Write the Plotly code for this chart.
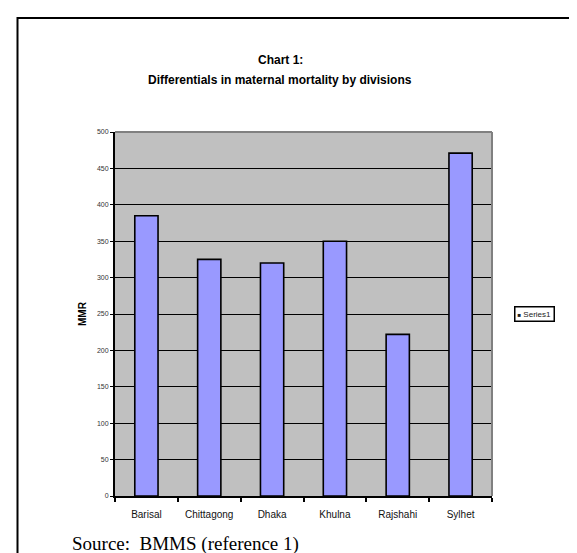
import plotly.graph_objects as go

categories = ["Barisal", "Chittagong", "Dhaka", "Khulna", "Rajshahi", "Sylhet"]
mmr_values = [385, 325, 320, 350, 222, 471]
series_name = "Series1"
title_line1 = "Chart 1:"
title_line2 = "Differentials in maternal mortality by divisions"
y_title = "MMR"
source_text = "Source:&nbsp;&nbsp;BMMS (reference 1)"

W, H = 577, 553
L, R, T, B = 107, 484, 124, 488  # plot area in px
pw, ph = R - L, B - T

def px(x):
    return (x - L) / pw

def py(y):
    return (B - y) / ph

fig = go.Figure()
fig.add_trace(go.Bar(
    x=categories, y=mmr_values, name=series_name,
    marker=dict(color="#9999FF", line=dict(color="black", width=1.6)),
    width=0.37, showlegend=False,
))

fig.update_layout(
    width=W, height=H,
    margin=dict(l=L, r=W - R, t=T, b=H - B, pad=0),
    paper_bgcolor="white", plot_bgcolor="#C0C0C0",
    font=dict(family="Liberation Sans, Arial, sans-serif", color="black"),
    showlegend=False,
    xaxis=dict(
        type="category", showgrid=False, showline=True, linecolor="black", linewidth=2,
        ticks="outside", tickson="boundaries", ticklen=4, tickwidth=1.5, tickcolor="black",
        tickfont=dict(size=10, color="#111"), ticklabelstandoff=8,
    ),
    yaxis=dict(
        range=[0, 500], dtick=50, showgrid=True, gridcolor="black", gridwidth=1,
        showline=True, linecolor="black", linewidth=2, zeroline=False,
        ticks="outside", ticklen=3, tickwidth=1, tickcolor="black",
        tickfont=dict(size=7, color="#333"),
        title=dict(text="<b>" + y_title + "</b>", font=dict(size=10), standoff=8),
    ),
    shapes=[
        # outer frame
        dict(type="rect", xref="paper", yref="paper",
             x0=px(9.5), x1=px(600), y0=py(10), y1=py(600),
             line=dict(color="black", width=2), layer="below"),
        # top and right plot border (gray)
        dict(type="line", xref="paper", yref="paper", x0=0, x1=1, y0=1, y1=1,
             line=dict(color="#808080", width=2), layer="above"),
        dict(type="line", xref="paper", yref="paper", x0=1, x1=1, y0=0, y1=1,
             line=dict(color="#808080", width=2), layer="above"),
    ],
    annotations=[
        dict(text="<b>" + title_line1 + "</b>", xref="paper", yref="paper",
             x=px(272), y=py(52), showarrow=False, font=dict(size=12),
             xanchor="center", yanchor="middle"),
        dict(text="<b>" + title_line2 + "</b>", xref="paper", yref="paper",
             x=px(272), y=py(72), showarrow=False, font=dict(size=12),
             xanchor="center", yanchor="middle"),
        # legend box
        dict(text="<span style='font-size:6px'>■</span> " + series_name,
             xref="paper", yref="paper", x=px(526), y=py(306),
             showarrow=False, font=dict(size=8, color="#222"),
             bordercolor="black", borderwidth=1.5, borderpad=2,
             bgcolor="white", xanchor="center", yanchor="middle"),
        dict(text=source_text, xref="paper", yref="paper",
             x=px(62), y=py(536), showarrow=False,
             font=dict(size=19, family="Liberation Serif, Times New Roman, serif", color="black"),
             xanchor="left", yanchor="middle"),
    ],
)

fig.write_html("out.html")
